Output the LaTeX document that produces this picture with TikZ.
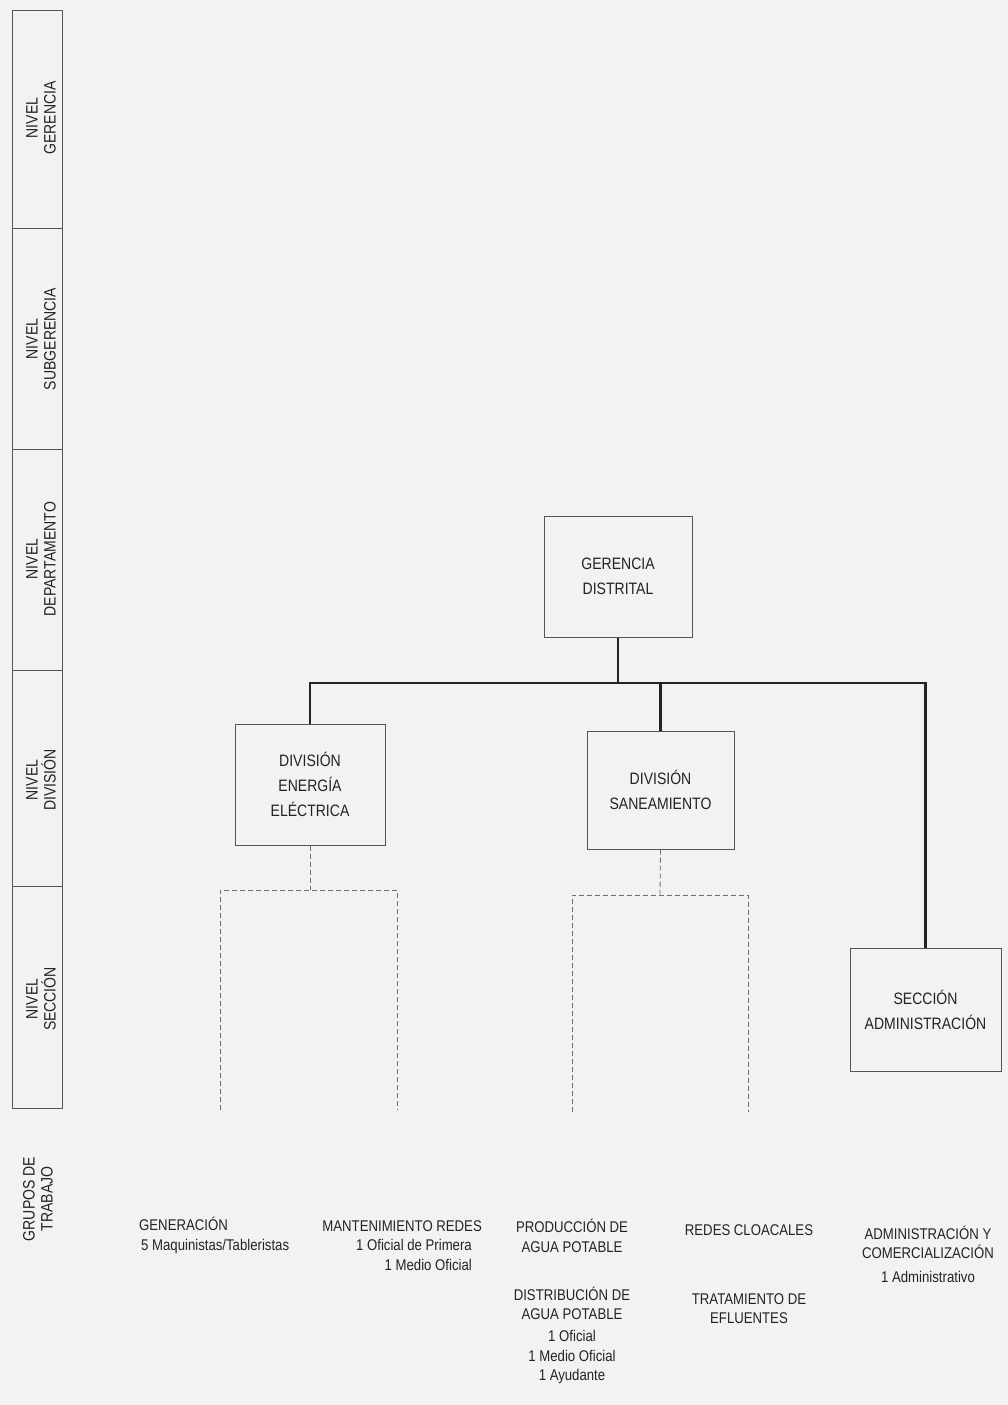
\documentclass[tikz,border=0pt]{standalone}
\usepackage{fontspec}
\setmainfont[FakeStretch=0.85]{Liberation Sans}
\definecolor{bgc}{RGB}{243,242,240}
\definecolor{boxc}{RGB}{85,85,85}
\definecolor{linec}{RGB}{35,35,35}
\definecolor{txtc}{RGB}{35,35,35}
\definecolor{dashc}{RGB}{110,110,110}
\begin{document}
\begin{tikzpicture}[x=1pt,y=-1pt,
  box/.style={draw=boxc, line width=1pt, fill=bgc, inner sep=0pt, align=center,
    font=\fontsize{16.5}{25}\selectfont, text=txtc},
  lvl/.style={rotate=90, align=center, inner sep=0pt, font=\fontsize{16.5}{18}\selectfont, text=txtc},
  grp/.style={align=center, inner sep=0pt, font=\fontsize{15.5}{19.5}\selectfont, text=txtc},
  conn/.style={line width=2.8pt, draw=linec},
  dsh/.style={dash pattern=on 5pt off 3pt, line width=0.8pt, draw=dashc},
  cell/.style={draw=boxc, line width=0.9pt}]
\fill[bgc] (0,0) rectangle (1008,1405);
\useasboundingbox (0,0) rectangle (1008,1405);

% level column
\draw[cell] (12,10) rectangle (62,1108);
\draw[cell] (12,228) -- (62,228);
\draw[cell] (12,449) -- (62,449);
\draw[cell] (12,670) -- (62,670);
\draw[cell] (12,886) -- (62,886);
\node[lvl] (lg) at (41,118) {NIVEL\\GERENCIA};
\node[lvl] (ls) at (41,339) {NIVEL\\SUBGERENCIA};
\node[lvl] (ld) at (41,559) {NIVEL\\DEPARTAMENTO};
\node[lvl] (lv) at (41,780) {NIVEL\\DIVISIÓN};
\node[lvl] (lc) at (41,999) {NIVEL\\SECCIÓN};
\node[lvl] (lt) at (38,1199) {GRUPOS DE\\TRABAJO};

% boxes
\node[box, minimum width=148pt, minimum height=121pt] (ger) at (618,576.5) {GERENCIA\\DISTRITAL};
\node[box, minimum width=150pt, minimum height=121pt] (dee) at (310,784.5) {DIVISIÓN\\ENERGÍA\\ELÉCTRICA};
\node[box, minimum width=147pt, minimum height=118pt] (dsa) at (660.5,790) {DIVISIÓN\\SANEAMIENTO};
\node[box, minimum width=151pt, minimum height=123pt] (sec) at (925.5,1009.5) {SECCIÓN\\ADMINISTRACIÓN};

% solid connectors
\coordinate (j) at (618,683);
\draw[conn] (ger.south) -- (j);
\draw[conn] (dee.north) |- (j) -| (sec.north);
\draw[conn] (dsa.north) -- (dsa.north |- j);

% dashed brackets
\coordinate (d1) at (310,890);
\coordinate (d1l) at (220,1110);
\coordinate (d1r) at (397,1110);
\draw[dsh] (dee.south) -- (d1);
\draw[dsh] (d1l) |- (d1) -| (d1r);
\coordinate (d2) at (660,895);
\coordinate (d2l) at (572,1112);
\coordinate (d2r) at (748,1112);
\draw[dsh] (dsa.south) -- (d2);
\draw[dsh] (d2l) |- (d2) -| (d2r);

% work groups
\node[grp, align=left, anchor=west] (g1) at (139,1235.5) {GENERACIÓN\\\hspace*{2pt}5 Maquinistas/Tableristas};
\node[grp, anchor=east] (g2) at (482,1226) {MANTENIMIENTO REDES};
\node[grp, align=right, anchor=east] (g2b) at (472,1255) {1 Oficial de Primera\\1 Medio Oficial};
\node[grp] (g3) at (572,1236) {PRODUCCIÓN DE\\AGUA POTABLE};
\node[grp] (g4) at (572,1303.5) {DISTRIBUCIÓN DE\\AGUA POTABLE};
\node[grp] (g5) at (572,1357) {1 Oficial\\1 Medio Oficial\\1 Ayudante};
\node[grp] (g6) at (749,1230) {REDES CLOACALES};
\node[grp] (g7) at (749,1308.5) {TRATAMIENTO DE\\EFLUENTES};
\node[grp] (g8) at (928,1242.5) {ADMINISTRACIÓN Y\\COMERCIALIZACIÓN};
\node[grp] (g9) at (928,1277) {1 Administrativo};
\end{tikzpicture}
\end{document}
